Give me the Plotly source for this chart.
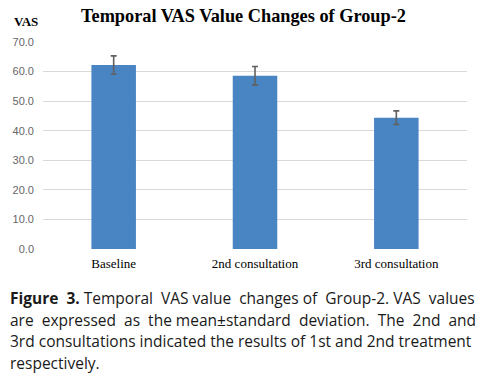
import plotly.graph_objects as go

categories = ["Baseline", "2nd consultation", "3rd consultation"]
means = [62.2, 58.6, 44.4]
sds = [3.1, 3.1, 2.3]
y_ticks = [0, 10, 20, 30, 40, 50, 60, 70]
y_tick_labels = ["0.0", "10.0", "20.0", "30.0", "40.0", "50.0", "60.0", "70.0"]

caption_words = [
    ["<b>Figure", "3.</b>", "Temporal", "VAS", "value", "changes", "of", "Group-2.", "VAS", "values"],
    ["are", "expressed", "as", "the", "mean±standard", "deviation.", "The", "2nd", "and"],
    ["3rd", "consultations", "indicated", "the", "results", "of", "1st", "and", "2nd", "treatment"],
    ["respectively."],
]
# number of extra non-breaking spaces to emulate justified text
extra_gaps = [5, 7, 0, 0]

NB = "\u00a0"


def justify(words, n_extra):
    gaps = len(words) - 1
    out = words[0]
    if gaps <= 0:
        return out
    chosen = set(round((k + 0.5) * gaps / n_extra - 0.5) for k in range(n_extra)) if n_extra else set()
    for g in range(gaps):
        sep = " " + (NB if g in chosen else "")
        out += sep + words[g + 1]
    return out


fig = go.Figure()
fig.add_trace(go.Bar(
    x=categories, y=means,
    marker=dict(color="#4a85c3", line=dict(width=0)),
    width=0.315,
    error_y=dict(type="data", array=sds, visible=True, color="#606060", thickness=1.6, width=3),
))

fig.update_layout(
    width=479, height=377,
    margin=dict(l=43, r=12, t=42, b=128),
    paper_bgcolor="white", plot_bgcolor="white",
    showlegend=False,
    xaxis=dict(showline=False, showgrid=False, ticks="", ticklabelstandoff=5,
               tickfont=dict(family="Liberation Serif", size=13, color="black")),
    yaxis=dict(range=[0, 70], tickvals=y_ticks, ticktext=y_tick_labels,
               showgrid=True, gridcolor="#d9d9d9", gridwidth=1, zeroline=False,
               showline=False, ticks="", ticklabelstandoff=8,
               tickfont=dict(family="Liberation Sans", size=11, color="#666666")),
)

fig.add_annotation(text="<b>Temporal VAS Value Changes of Group-2</b>", xref="paper", yref="paper",
                   x=0, y=1, xanchor="left", yanchor="bottom", xshift=36, yshift=14, showarrow=False,
                   font=dict(family="Liberation Serif", size=18.3, color="black"))
fig.add_annotation(text="<b>VAS</b>", xref="paper", yref="paper",
                   x=0, y=1, xanchor="left", yanchor="bottom", xshift=-31, yshift=11, showarrow=False,
                   font=dict(family="Liberation Serif", size=13, color="black"))

for i, words in enumerate(caption_words):
    fig.add_annotation(text=justify(words, extra_gaps[i]), xref="paper", yref="paper", x=0, y=0,
                       xanchor="left", yanchor="middle", xshift=-35, yshift=-(298 - 249) - i * 21.7,
                       showarrow=False, align="left",
                       font=dict(family="Open Sans", size=15.5, color="#1a1a1a"))

fig.write_html("out.html", config={"displayModeBar": False},
               post_script="document.body.style.margin='0';document.body.style.overflow='hidden';")
